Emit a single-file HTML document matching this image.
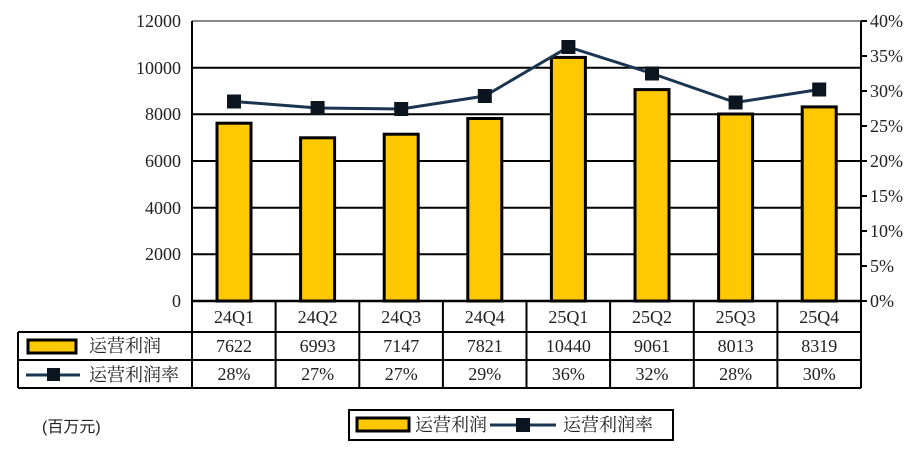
<!DOCTYPE html><html><head><meta charset="utf-8"><style>body{margin:0;background:#fff}</style></head><body>
<svg width="916" height="456" xmlns="http://www.w3.org/2000/svg" font-family="Liberation Serif, Noto Serif CJK SC, serif" font-size="16" fill="#222">
<rect width="916" height="456" fill="#fff"/>
<line x1="192" y1="21" x2="861" y2="21" stroke="#888" stroke-width="2"/>
<g stroke="#000" stroke-width="2">
<line x1="192" y1="67.7" x2="861" y2="67.7"/><line x1="192" y1="114.3" x2="861" y2="114.3"/><line x1="192" y1="161" x2="861" y2="161"/><line x1="192" y1="207.7" x2="861" y2="207.7"/><line x1="192" y1="254.3" x2="861" y2="254.3"/>
<line x1="192" y1="21" x2="192" y2="388"/><line x1="861" y1="21" x2="861" y2="388"/>
<line x1="18" y1="332" x2="861" y2="332"/><line x1="18" y1="360" x2="861" y2="360"/><line x1="18" y1="388" x2="861" y2="388"/><line x1="18" y1="332" x2="18" y2="388"/>
<line x1="275.6" y1="301" x2="275.6" y2="388"/><line x1="359.3" y1="301" x2="359.3" y2="388"/><line x1="442.9" y1="301" x2="442.9" y2="388"/><line x1="526.5" y1="301" x2="526.5" y2="388"/><line x1="610.1" y1="301" x2="610.1" y2="388"/><line x1="693.8" y1="301" x2="693.8" y2="388"/><line x1="777.4" y1="301" x2="777.4" y2="388"/>
<line x1="861" y1="21" x2="867" y2="21"/><line x1="861" y1="56" x2="867" y2="56"/><line x1="861" y1="91" x2="867" y2="91"/><line x1="861" y1="126" x2="867" y2="126"/><line x1="861" y1="161" x2="867" y2="161"/><line x1="861" y1="196" x2="867" y2="196"/><line x1="861" y1="231" x2="867" y2="231"/><line x1="861" y1="266" x2="867" y2="266"/><line x1="861" y1="301" x2="867" y2="301"/>
</g>
<g fill="#FFC800" stroke="#000" stroke-width="3">
<rect x="217" y="123.2" width="34" height="177.8"/>
<rect x="300.6" y="137.8" width="34" height="163.2"/>
<rect x="384.2" y="134.2" width="34" height="166.8"/>
<rect x="467.8" y="118.5" width="34" height="182.5"/>
<rect x="551.4" y="57.4" width="34" height="243.6"/>
<rect x="635" y="89.6" width="34" height="211.4"/>
<rect x="718.6" y="114" width="34" height="187"/>
<rect x="802.2" y="106.9" width="34" height="194.1"/>
</g>
<line x1="192" y1="301" x2="861" y2="301" stroke="#000" stroke-width="2.5"/>
<polyline fill="none" stroke="#1a3550" stroke-width="3" points="234,101.5 317.6,108 401.2,109 484.8,96 568.4,47 652,73.5 735.6,102.5 819.2,89.5"/>
<g fill="#0a1520">
<rect x="227" y="94.5" width="14" height="14"/><rect x="310.6" y="101" width="14" height="14"/><rect x="394.2" y="102" width="14" height="14"/><rect x="477.8" y="89" width="14" height="14"/><rect x="561.4" y="40" width="14" height="14"/><rect x="645" y="66.5" width="14" height="14"/><rect x="728.6" y="95.5" width="14" height="14"/><rect x="812.2" y="82.5" width="14" height="14"/>
</g>
<g text-anchor="end" font-size="18">
<text x="181" y="27">12000</text><text x="181" y="74">10000</text><text x="181" y="120">8000</text><text x="181" y="167">6000</text><text x="181" y="214">4000</text><text x="181" y="260">2000</text><text x="181" y="307">0</text>
</g>
<g font-size="18">
<text x="870" y="27">40%</text><text x="870" y="62">35%</text><text x="870" y="97">30%</text><text x="870" y="132">25%</text><text x="870" y="167">20%</text><text x="870" y="202">15%</text><text x="870" y="237">10%</text><text x="870" y="272">5%</text><text x="870" y="307">0%</text>
</g>
<g text-anchor="middle" font-size="18">
<text x="234" y="323">24Q1</text><text x="317.6" y="323">24Q2</text><text x="401.2" y="323">24Q3</text><text x="484.8" y="323">24Q4</text><text x="568.4" y="323">25Q1</text><text x="652" y="323">25Q2</text><text x="735.6" y="323">25Q3</text><text x="819.2" y="323">25Q4</text>
<text x="234" y="352">7622</text><text x="317.6" y="352">6993</text><text x="401.2" y="352">7147</text><text x="484.8" y="352">7821</text><text x="568.4" y="352">10440</text><text x="652" y="352">9061</text><text x="735.6" y="352">8013</text><text x="819.2" y="352">8319</text>
<text x="234" y="380">28%</text><text x="317.6" y="380">27%</text><text x="401.2" y="380">27%</text><text x="484.8" y="380">29%</text><text x="568.4" y="380">36%</text><text x="652" y="380">32%</text><text x="735.6" y="380">28%</text><text x="819.2" y="380">30%</text>
</g>
<rect x="28" y="340" width="48" height="13" fill="#FFC800" stroke="#000" stroke-width="3"/>
<text x="89" y="352" font-size="18">运营利润</text>
<line x1="26" y1="375" x2="80" y2="375" stroke="#1a3550" stroke-width="3"/><rect x="47" y="368" width="13" height="13" fill="#0a1520"/>
<text x="89" y="381" font-size="18">运营利润率</text>
<text x="42" y="432" font-size="16" font-family="Liberation Sans, Noto Sans CJK SC, sans-serif">(百万元)</text>
<rect x="349" y="410" width="324" height="30" fill="#fff" stroke="#000" stroke-width="2"/>
<rect x="357" y="418" width="52" height="13" fill="#FFC800" stroke="#000" stroke-width="3"/>
<text x="415" y="431" font-size="18">运营利润</text>
<line x1="490" y1="425" x2="556" y2="425" stroke="#1a3550" stroke-width="3"/><rect x="516" y="418" width="14" height="14" fill="#0a1520"/>
<text x="563" y="431" font-size="18">运营利润率</text>
</svg></body></html>
